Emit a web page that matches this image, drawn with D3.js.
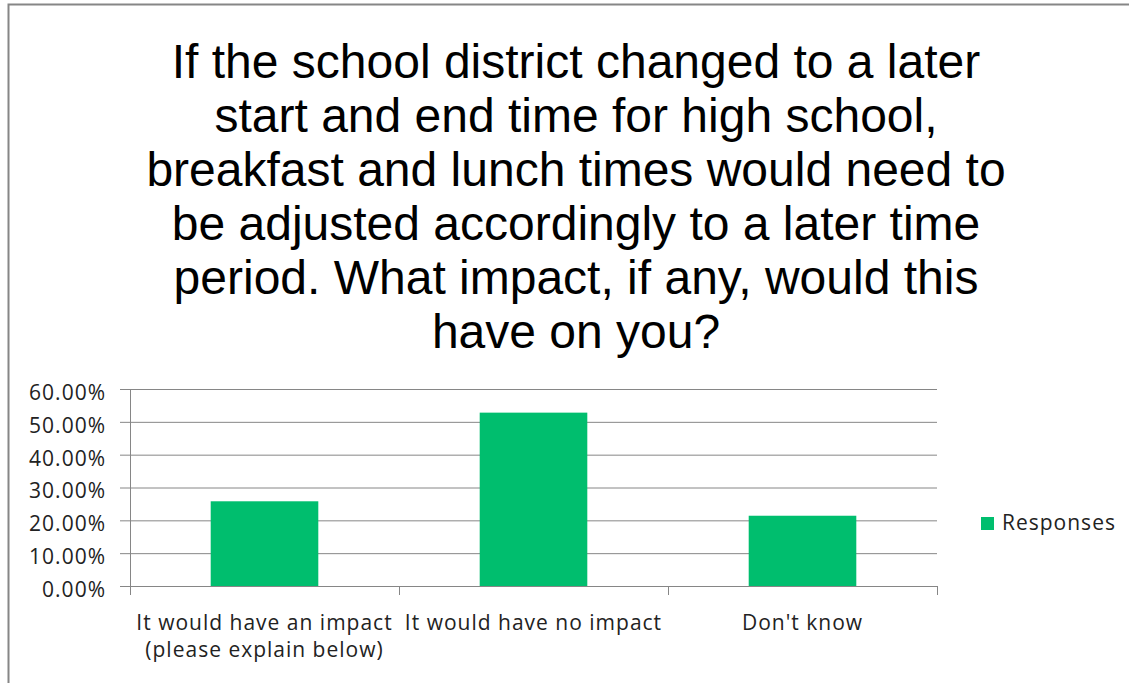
<!DOCTYPE html>
<html>
<head>
<meta charset="utf-8">
<script src="https://cdn.jsdelivr.net/npm/d3@7"></script>
<style>
  html, body { margin: 0; padding: 0; background: #fff; }
  svg { display: block; }
</style>
</head>
<body>
<div id="chart"></div>
<script>
const titleLines = [
  'If the school district changed to a later',
  'start and end time for high school,',
  'breakfast and lunch times would need to',
  'be adjusted accordingly to a later time',
  'period. What impact, if any, would this',
  'have on you?'
]
const categories = [
  ['It would have an impact', '(please explain below)'],
  ['It would have no impact'],
  ["Don't know"]
]
const responses = [0.258, 0.528, 0.214]
const yTicks = [0, 0.1, 0.2, 0.3, 0.4, 0.5, 0.6]
const seriesName = 'Responses'

const width = 1129, height = 683
const plot = { left: 130, right: 937, top: 389, bottom: 586 }
const barColor = '#00be6e'
const lineColor = '#868686'
const labelFont = '"Open Sans", "Noto Sans", sans-serif'

const svg = d3.select('#chart')
  .append('svg')
  .attr('width', width)
  .attr('height', height)

// chart frame (right and bottom edges fall outside the picture)
svg.append('rect')
  .attr('x', 8.5).attr('y', 4.5)
  .attr('width', 1200).attr('height', 800)
  .attr('fill', 'none')
  .attr('stroke', lineColor)
  .attr('stroke-width', 2)

// title
svg.append('g')
  .selectAll('text')
  .data(titleLines)
  .enter()
  .append('text')
  .attr('x', 576)
  .attr('y', (d, i) => 78 + i * 54)
  .attr('text-anchor', 'middle')
  .style('font-family', '"Liberation Sans", Arial, sans-serif')
  .style('font-size', '48px')
  .attr('fill', '#000')
  .text(d => d)

const x = d3.scaleBand()
  .domain(d3.range(categories.length))
  .range([plot.left, plot.right])
  .padding(0)

const y = d3.scaleLinear()
  .domain([0, 0.6])
  .range([plot.bottom, plot.top])

const labelStyle = sel => sel
  .style('font-family', labelFont)
  .style('font-size', '21px')
  .style('letter-spacing', '1px')
  .attr('fill', '#222')

// gridlines + y labels
const yAxis = d3.axisLeft(y)
  .tickValues(yTicks)
  .tickFormat(d3.format('.2%'))
  .tickSize(-(plot.right - plot.left))

const gy = svg.append('g')
  .attr('transform', `translate(${plot.left},0)`)
  .call(yAxis)
gy.select('.domain').remove()
gy.selectAll('.tick line')
  .attr('x1', -10)
  .attr('stroke', lineColor)
gy.selectAll('.tick text')
  .attr('x', -24)
  .attr('dy', '0.35em')
  .attr('y', 3)
  .call(labelStyle)

// bars
const barW = x.bandwidth() * 0.4
svg.append('g')
  .selectAll('rect')
  .data(responses)
  .enter()
  .append('rect')
  .attr('x', (d, i) => x(i) + (x.bandwidth() - barW) / 2)
  .attr('y', d => y(d))
  .attr('width', barW)
  .attr('height', d => y(0) - y(d))
  .attr('fill', barColor)

// axis lines and ticks at band boundaries
const gx = svg.append('g')
gx.append('line')
  .attr('x1', plot.left + 0.5).attr('x2', plot.left + 0.5)
  .attr('y1', plot.top).attr('y2', y(0))
  .attr('stroke', lineColor)
gx.append('line')
  .attr('x1', plot.left).attr('x2', plot.right)
  .attr('y1', y(0) + 0.5).attr('y2', y(0) + 0.5)
  .attr('stroke', lineColor)
const edges = x.domain().map(i => x(i)).concat([plot.right])
gx.selectAll('line.tk')
  .data(edges)
  .enter()
  .append('line')
  .attr('class', 'tk')
  .attr('x1', d => Math.round(d) + 0.5).attr('x2', d => Math.round(d) + 0.5)
  .attr('y1', y(0)).attr('y2', y(0) + 9)
  .attr('stroke', lineColor)

// category labels
const cat = gx.selectAll('text')
  .data(categories)
  .enter()
  .append('text')
  .attr('text-anchor', 'middle')
  .call(labelStyle)
cat.selectAll('tspan')
  .data((d, i) => d.map(t => ({ t, i })))
  .enter()
  .append('tspan')
  .attr('x', d => x(d.i) + x.bandwidth() / 2)
  .attr('y', (d, j) => 630 + j * 27)
  .text(d => d.t)

// legend
const lg = svg.append('g').attr('transform', 'translate(981,517)')
lg.append('rect')
  .attr('width', 13).attr('height', 13)
  .attr('fill', barColor)
lg.append('text')
  .attr('x', 21).attr('y', 13)
  .call(labelStyle)
  .text(seriesName)
</script>
</body>
</html>
